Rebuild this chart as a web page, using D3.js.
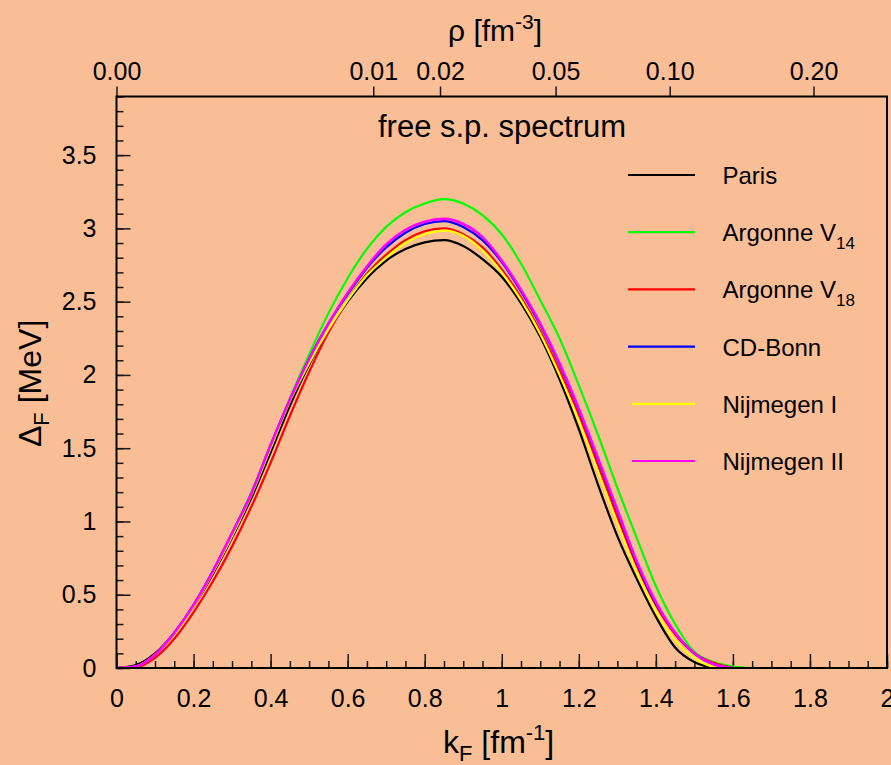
<!DOCTYPE html>
<html>
<head>
<meta charset="utf-8">
<script src="https://cdn.jsdelivr.net/npm/d3@7"></script>
<style>
  body { margin: 0; background: #fabe96; }
  svg { display: block; font-family: "Liberation Sans", Arial, sans-serif; }
  .tick line { stroke: #1a1a1a; stroke-width: 1.5px; }
  .tick text { font-size: 25px; fill: #000; }
</style>
<title>gap vs kF</title>
</head>
<body>
<script>
// k_F grid [fm^-1]
var kF = [0.00,0.05,0.10,0.15,0.20,0.25,0.30,0.35,0.40,0.45,0.50,0.55,0.60,0.65,0.70,0.75,0.80,0.85,
          0.90,0.95,1.00,1.05,1.10,1.15,1.20,1.25,1.30,1.35,1.40,1.45,1.50,1.55,1.60,1.65];

// Delta_F [MeV]
var paris      = [0,0.02,0.10,0.24,0.42,0.64,0.89,1.16,1.47,1.79,2.07,2.30,2.50,2.66,2.78,2.86,2.905,2.92,
                  2.88,2.79,2.67,2.49,2.26,1.97,1.63,1.25,0.90,0.61,0.35,0.14,0.04,0.0,null,null];
var argonneV14 = [0,0.01,0.09,0.24,0.43,0.66,0.92,1.20,1.52,1.84,2.14,2.42,2.66,2.86,3.01,3.11,3.17,3.20,
                  3.17,3.09,2.96,2.76,2.51,2.25,1.93,1.59,1.23,0.89,0.56,0.30,0.11,0.04,0.01,0];
var argonneV18 = [0,0.005,0.07,0.20,0.38,0.59,0.83,1.10,1.40,1.72,2.02,2.29,2.51,2.69,2.82,2.92,2.98,3.00,
                  2.96,2.87,2.72,2.53,2.30,2.03,1.72,1.38,1.03,0.70,0.43,0.23,0.10,0.035,0,null];
var cdBonn     = [0,0.01,0.09,0.24,0.43,0.66,0.92,1.19,1.52,1.83,2.11,2.35,2.55,2.73,2.87,2.97,3.03,3.05,
                  3.01,2.92,2.77,2.57,2.34,2.07,1.76,1.42,1.07,0.72,0.44,0.24,0.10,0.025,0,null];
var nijmegenI  = [0,0.01,0.09,0.23,0.42,0.65,0.90,1.18,1.50,1.82,2.08,2.31,2.51,2.68,2.80,2.90,2.96,2.985,
                  2.95,2.85,2.70,2.51,2.28,2.00,1.69,1.34,0.99,0.66,0.39,0.19,0.07,0.01,0,null];
var nijmegenII = [0,0.01,0.09,0.24,0.43,0.66,0.92,1.19,1.52,1.83,2.11,2.35,2.56,2.74,2.89,2.99,3.045,3.065,
                  3.03,2.94,2.78,2.58,2.35,2.08,1.77,1.43,1.08,0.73,0.45,0.24,0.10,0.025,0,null];

var seriesNames  = ["Paris", "Argonne V_14", "Argonne V_18", "CD-Bonn", "Nijmegen I", "Nijmegen II"];
var seriesColors = ["#000000", "#00ff00", "#ff0000", "#0000ff", "#ffff00", "#ff00ff"];
var seriesValues = [paris, argonneV14, argonneV18, cdBonn, nijmegenI, nijmegenII];

var xTicks = [0,0.2,0.4,0.6,0.8,1,1.2,1.4,1.6,1.8,2];
var xTickLabels = ["0","0.2","0.4","0.6","0.8","1","1.2","1.4","1.6","1.8","2"];
var yTicks = [0,0.5,1,1.5,2,2.5,3,3.5];
var yTickLabels = ["0","0.5","1","1.5","2","2.5","3","3.5"];
var rhoTicks = [0,0.01,0.02,0.05,0.10,0.20];
var rhoTickLabels = ["0.00","0.01","0.02","0.05","0.10","0.20"];

var W = 891, H = 765;
var pLeft = 116.5, pRight = 887, pTop = 96.5, pBottom = 668;

var svg = d3.select("body").append("svg")
  .attr("width", W)
  .attr("height", H);

svg.append("rect").attr("width", W).attr("height", H).attr("fill", "#fabe96");

var x = d3.scaleLinear().domain([0, 2]).range([pLeft, pRight]);
var y = d3.scaleLinear().domain([0, 3.9]).range([pBottom, pTop]);
// neutron matter: rho = kF^3 / (3 pi^2)
var rhoMax = Math.pow(2, 3) / (3 * Math.PI * Math.PI);
var xRho = d3.scalePow().exponent(1 / 3).domain([0, rhoMax]).range([pLeft, pRight]);

function clean(g) {
  g.select(".domain").remove();
  g.attr("font-family", null).attr("font-size", null);
}

// bottom axis
svg.append("g").attr("transform", "translate(0," + pBottom + ")")
  .call(d3.axisBottom(x).tickValues(d3.range(0, 2.001, 0.05)).tickSizeInner(-7).tickSizeOuter(0).tickFormat(""))
  .call(clean);
svg.append("g").attr("transform", "translate(0," + pBottom + ")")
  .call(d3.axisBottom(x).tickValues(xTicks).tickSizeInner(-14).tickSizeOuter(0).tickPadding(21)
    .tickFormat(function(d, i) { return xTickLabels[i]; }))
  .call(clean);

// left axis
svg.append("g").attr("transform", "translate(" + pLeft + ",0)")
  .call(d3.axisLeft(y).tickValues(d3.range(0, 3.901, 0.1)).tickSizeInner(-7).tickSizeOuter(0).tickFormat(""))
  .call(clean);
svg.append("g").attr("transform", "translate(" + pLeft + ",0)")
  .call(d3.axisLeft(y).tickValues(yTicks).tickSizeInner(-14).tickSizeOuter(0).tickPadding(20)
    .tickFormat(function(d, i) { return yTickLabels[i]; }))
  .call(clean);

// top axis (density)
svg.append("g").attr("transform", "translate(0," + pTop + ")")
  .call(d3.axisTop(xRho).tickValues(rhoTicks).tickSizeInner(10).tickSizeOuter(0).tickPadding(7)
    .tickFormat(function(d, i) { return rhoTickLabels[i]; }))
  .call(clean);

// curves
var line = d3.line()
  .defined(function(d) { return d[1] !== null; })
  .x(function(d) { return x(d[0]); })
  .y(function(d) { return y(d[1]); })
  .curve(d3.curveMonotoneX);

seriesValues.forEach(function(vals, i) {
  var pts = kF.map(function(k, j) { return [k, vals[j]]; });
  svg.append("path")
    .attr("d", line(pts))
    .attr("fill", "none")
    .attr("stroke", seriesColors[i])
    .attr("stroke-width", i == 5 ? 2.6 : 2.2);
});

// frame
svg.append("rect")
  .attr("x", pLeft).attr("y", pTop)
  .attr("width", pRight - pLeft).attr("height", pBottom - pTop)
  .attr("fill", "none").attr("stroke", "#000").attr("stroke-width", 2);

// legend
var legend = svg.append("g");
seriesNames.forEach(function(name, i) {
  var ly = 175 + i * 57.2;
  legend.append("line")
    .attr("x1", i >= 4 ? 632 : 628).attr("x2", 695)
    .attr("y1", ly).attr("y2", ly)
    .attr("stroke", seriesColors[i]).attr("stroke-width", 2.2);
  var parts = name.split("_");
  var t = legend.append("text").attr("x", 722.5).attr("y", ly + 9).attr("font-size", 24);
  t.append("tspan").text(parts[0]);
  if (parts[1]) {
    t.append("tspan").attr("dy", 8).attr("font-size", 17).text(parts[1]);
  }
});

// title
svg.append("text").attr("x", 502).attr("y", 137).attr("text-anchor", "middle")
  .attr("font-size", 31).text("free s.p. spectrum");

// axis titles
var xt = svg.append("text").attr("x", 443).attr("y", 753).attr("font-size", 32);
xt.append("tspan").text("k");
xt.append("tspan").attr("dy", 8).attr("font-size", 22).text("F");
xt.append("tspan").attr("dy", -8).text(" [fm");
xt.append("tspan").attr("dy", -13).attr("font-size", 22).text("-1");
xt.append("tspan").attr("dy", 13).text("]");

var tt = svg.append("text").attr("x", 448).attr("y", 41).attr("font-size", 30);
tt.append("tspan").text("ρ [fm");
tt.append("tspan").attr("dy", -12).attr("font-size", 21).text("-3");
tt.append("tspan").attr("dy", 12).text("]");

var yt = svg.append("text").attr("transform", "translate(41,447) rotate(-90)").attr("font-size", 32);
yt.append("tspan").text("Δ");
yt.append("tspan").attr("dy", 8).attr("font-size", 22).text("F");
yt.append("tspan").attr("dy", -8).text(" [MeV]");
</script>
</body>
</html>
